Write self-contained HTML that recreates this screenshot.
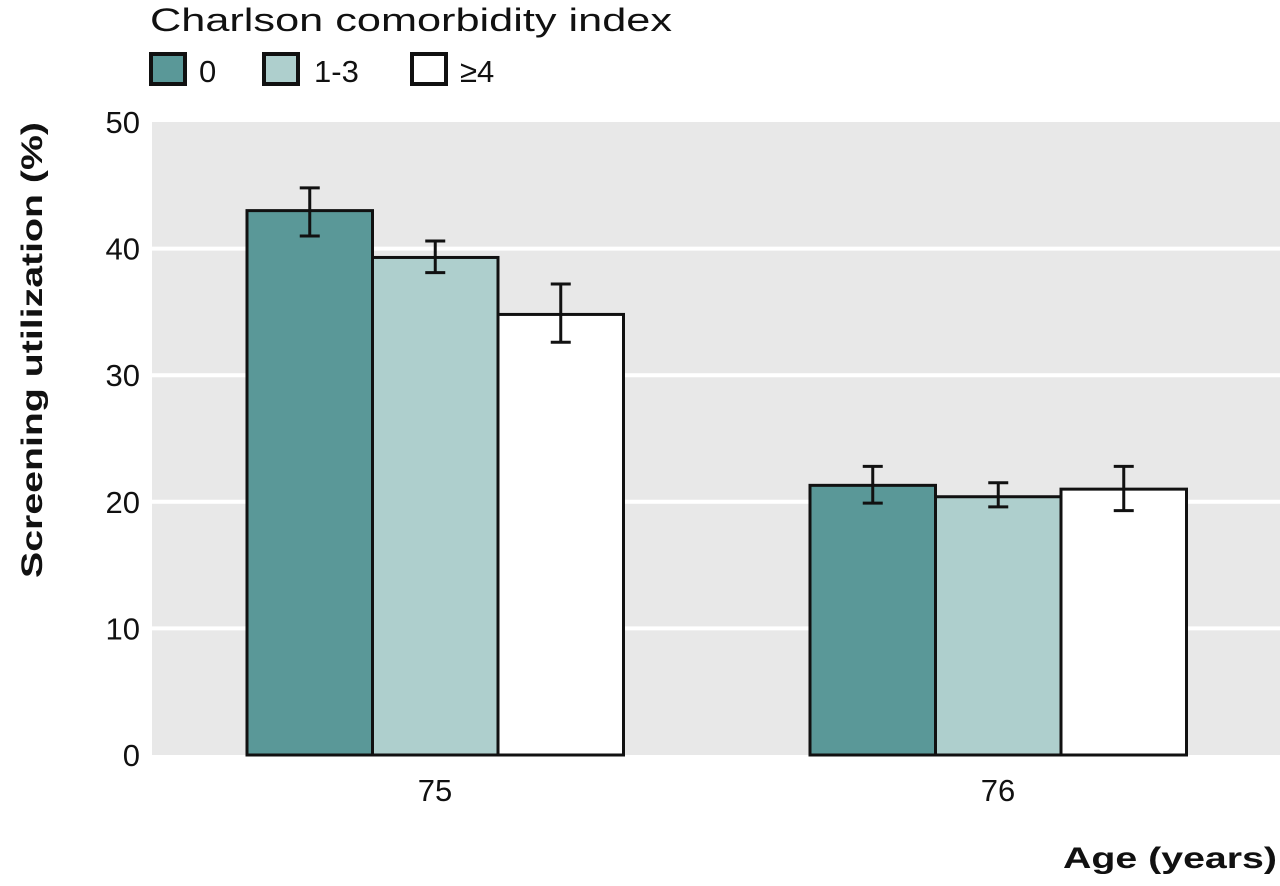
<!DOCTYPE html>
<html><head><meta charset="utf-8"><style>
body{margin:0;background:#fff;width:1280px;height:881px;overflow:hidden}
svg text{font-family:"Liberation Sans",sans-serif;fill:#111}
</style></head><body>
<svg id="chart" width="1280" height="881" xmlns="http://www.w3.org/2000/svg">
<rect x="152" y="122" width="1128" height="633" fill="#e8e8e8"/>
<g id="grid"></g>
<g id="yticks"></g>
<g id="bars"></g>
<g id="xticks"></g>
<text x="150" y="31" font-size="32" textLength="522" lengthAdjust="spacingAndGlyphs">Charlson comorbidity index</text>
<g><rect x="151" y="54" width="34" height="30" fill="#5a9898" stroke="#111" stroke-width="4"/><text x="199" y="82" font-size="31">0</text></g>
<g><rect x="264" y="54" width="34" height="30" fill="#aecfcd" stroke="#111" stroke-width="4"/><text x="314" y="82" font-size="31">1-3</text></g>
<g><rect x="412" y="54" width="34" height="30" fill="#fff" stroke="#111" stroke-width="4"/><text x="460" y="82" font-size="31">≥4</text></g>
<text transform="translate(42,350) rotate(-90)" text-anchor="middle" font-size="30" font-weight="bold" textLength="456" lengthAdjust="spacingAndGlyphs">Screening utilization (%)</text>
<text x="1277" y="868" text-anchor="end" font-size="30" font-weight="bold" textLength="214" lengthAdjust="spacingAndGlyphs">Age (years)</text>
</svg>
<script>
const categories=["75","76"];
const seriesNames=["0","1-3","≥4"];
const values0=[43.0,21.3];
const values1=[39.3,20.4];
const values2=[34.8,21.0];
const low0=[41.0,19.9];
const high0=[44.8,22.8];
const low1=[38.1,19.6];
const high1=[40.6,21.5];
const low2=[32.6,19.3];
const high2=[37.2,22.8];
const yTicks=[0,10,20,30,40,50];
const colors=["#5a9898","#aecfcd","#ffffff"];
const NS="http://www.w3.org/2000/svg";
const y0=755,y1=122,yMax=50;
function y(v){return y0-(v/yMax)*(y0-y1);}
const groupCenters=[435,998];
function x(ci,si){return groupCenters[ci]-188+si*125.5;}
function mk(t,a,p){const e=document.createElementNS(NS,t);for(const k in a)e.setAttribute(k,a[k]);p.appendChild(e);return e;}
const grid=document.getElementById('grid'),yt=document.getElementById('yticks'),bars=document.getElementById('bars'),xt=document.getElementById('xticks');
yTicks.forEach(v=>{
 if(v>0&&v<50){const l=mk('line',{x1:152,x2:1280,y1:y(v),y2:y(v),stroke:'#fff','stroke-width':4},grid);
 
 }
 const t=mk('text',{x:140,y:y(v)+11,'text-anchor':'end','font-size':31},yt);t.textContent=v;
 
 
});
const vals=[values0,values1,values2],lows=[low0,low1,low2],highs=[high0,high1,high2];
categories.forEach((c,ci)=>{
 seriesNames.forEach((s,si)=>{
  const v=vals[si][ci];
  const r=mk('rect',{x:x(ci,si),y:y(v),width:125.5,height:y0-y(v),fill:colors[si],stroke:'#111','stroke-width':3},bars);
  
  
  const cx=x(ci,si)+62.75,lo=y(lows[si][ci]),hi=y(highs[si][ci]);
  const g=mk('g',{stroke:'#111','stroke-width':3},bars);
  
  
  mk('line',{x1:cx,x2:cx,y1:lo,y2:hi},g);
  mk('line',{x1:cx-10,x2:cx+10,y1:lo,y2:lo},g);
  mk('line',{x1:cx-10,x2:cx+10,y1:hi,y2:hi},g);
 });
 const t=mk('text',{x:groupCenters[ci],y:801,'text-anchor':'middle','font-size':31},xt);t.textContent=c;
 
 
});
</script>
</body></html>
